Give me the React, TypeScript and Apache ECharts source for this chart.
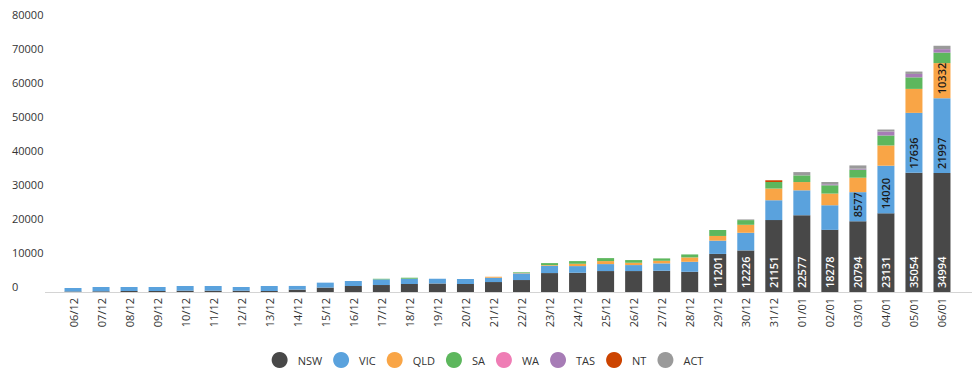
import React, { useEffect, useRef } from "react";
import * as echarts from "echarts";

const categories = [
  "06/12", "07/12", "08/12", "09/12", "10/12", "11/12", "12/12", "13/12",
  "14/12", "15/12", "16/12", "17/12", "18/12", "19/12", "20/12", "21/12",
  "22/12", "23/12", "24/12", "25/12", "26/12", "27/12", "28/12", "29/12",
  "30/12", "31/12", "01/01", "02/01", "03/01", "04/01", "05/01", "06/01",
];

const nsw = [150, 200, 290, 300, 390, 390, 380, 300, 700, 1300, 1760, 2050, 2350, 2500, 2350, 2930, 3520, 5570, 5660, 6160, 6160, 6250, 5950, 11201, 12226, 21151, 22577, 18278, 20794, 23131, 35054, 34994];
const vic = [1020, 1270, 1180, 1170, 1370, 1370, 1090, 1460, 1080, 1450, 1470, 1660, 1560, 1400, 1470, 1270, 1960, 2140, 1960, 2050, 1760, 2170, 2930, 3900, 5190, 5840, 7330, 7240, 8577, 14020, 17636, 21997];
const qld = [0, 0, 0, 0, 0, 0, 0, 0, 0, 0, 0, 0, 0, 0, 0, 290, 100, 200, 680, 880, 680, 760, 1290, 1380, 2350, 3430, 2430, 3430, 4250, 5950, 7046, 10332];
const sa = [0, 0, 0, 0, 0, 0, 0, 0, 0, 0, 0, 180, 290, 0, 0, 0, 200, 590, 790, 880, 790, 700, 880, 1760, 1380, 1940, 1960, 2440, 2350, 2930, 3400, 3100];
const wa = [0, 0, 0, 0, 0, 0, 0, 0, 0, 0, 0, 0, 0, 0, 0, 0, 0, 0, 0, 0, 0, 0, 0, 0, 0, 0, 0, 0, 0, 0, 0, 0];
const tas = [0, 0, 0, 0, 0, 0, 0, 0, 0, 0, 0, 0, 0, 0, 0, 0, 0, 0, 0, 0, 0, 0, 0, 0, 0, 0, 0, 300, 300, 1170, 1000, 1000];
const nt = [0, 0, 0, 0, 0, 0, 0, 0, 0, 0, 0, 0, 0, 0, 0, 0, 0, 0, 0, 0, 0, 0, 0, 0, 0, 500, 0, 0, 0, 0, 0, 0];
const act = [0, 0, 0, 0, 0, 0, 0, 0, 0, 0, 0, 0, 0, 0, 0, 0, 0, 0, 0, 0, 0, 0, 0, 0, 200, 0, 970, 670, 960, 590, 700, 1000];

const seriesNames = ["NSW", "VIC", "QLD", "SA", "WA", "TAS", "NT", "ACT"];
const seriesData = [nsw, vic, qld, sa, wa, tas, nt, act];
const seriesColors = ["#484848", "#5aa2dd", "#f9a546", "#5db75d", "#ef7db5", "#a77cb6", "#cc4400", "#9a9a9a"];
const labelColors = ["#ffffff", "#1a1a1a", "#1a1a1a", "#1a1a1a", "#1a1a1a", "#1a1a1a", "#1a1a1a", "#1a1a1a"];

const FONT = "'Open Sans', sans-serif";

export default function App() {
  const ref = useRef<HTMLDivElement>(null);

  useEffect(() => {
    if (!ref.current) return;
    const chart = echarts.init(ref.current, null, { renderer: "svg" });
    chart.setOption({
      animation: false,
      backgroundColor: "#ffffff",
      textStyle: { fontFamily: FONT },
      grid: { left: 59, right: 19, top: 20, bottom: 85 },
      legend: {
        bottom: 4,
        left: "center",
        icon: "circle",
        itemWidth: 16,
        itemHeight: 16,
        itemGap: 11,
        data: seriesNames,
        textStyle: { fontFamily: FONT, fontSize: 11, color: "#333", padding: [0, 0, 0, 5] },
      },
      xAxis: {
        type: "category",
        data: categories,
        axisLine: { show: false },
        axisTick: { show: false },
        axisLabel: {
          rotate: 90,
          margin: 6,
          interval: 0,
          fontFamily: FONT,
          fontSize: 11,
          color: "#333",
        },
      },
      yAxis: {
        type: "value",
        min: 0,
        max: 80000,
        interval: 10000,
        splitLine: { show: false },
        axisLine: { show: false },
        axisTick: { show: false },
        axisLabel: {
          align: "left",
          verticalAlign: "bottom",
          margin: 47,
          fontFamily: FONT,
          fontSize: 11,
          color: "#333",
          formatter: (v: number) => String(v),
        },
      },
      graphic: [
        {
          type: "line",
          shape: { x1: 45, y1: 292.5, x2: 972, y2: 292.5 },
          style: { stroke: "#d4d4d4", lineWidth: 1 },
          z: 0,
        },
      ],
      series: seriesNames.map((name, i) => ({
        name,
        type: "bar",
        stack: "total",
        barWidth: 17,
        data: seriesData[i],
        itemStyle: { color: seriesColors[i] },
        label: {
          show: true,
          position: "insideBottom",
          rotate: 90,
          align: "left",
          verticalAlign: "middle",
          distance: 4,
          fontFamily: FONT,
          fontSize: 11,
          fontWeight: 600,
          color: labelColors[i],
          formatter: (p: any) => (p.value >= 8000 ? String(p.value) : ""),
        },
      })),
    });
    return () => chart.dispose();
  }, []);

  return (
    <div
      ref={ref}
      style={{ position: "fixed", left: 0, top: 0, width: 975, height: 377, background: "#fff" }}
    />
  );
}
